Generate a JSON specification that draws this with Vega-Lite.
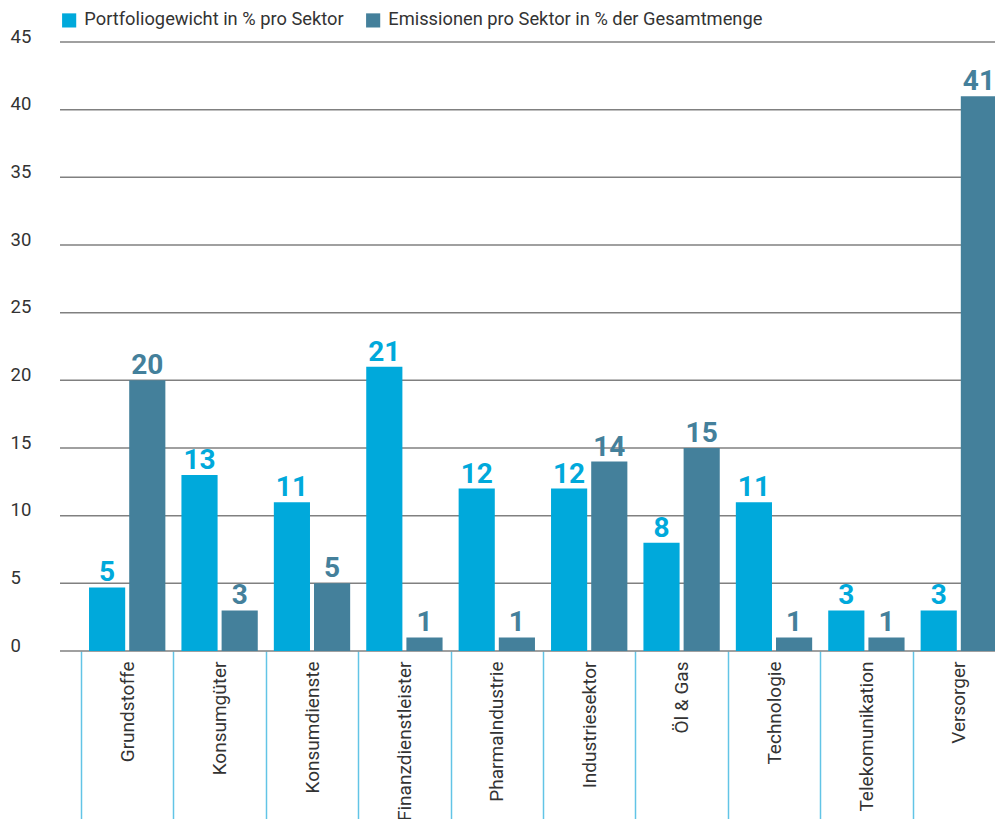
{
  "$schema": "https://vega.github.io/schema/vega-lite/v6.json",
  "autosize": {"type": "none"},
  "width": 935,
  "height": 609,
  "padding": {"left": 60, "top": 42, "right": 0, "bottom": 168},
  "background": "white",
  "config": {
    "view": {"stroke": null},
    "font": "Roboto"
  },
  "datasets": {
    "balken": [
      {"sektor": "Grundstoffe", "serie": "Portfoliogewicht in % pro Sektor", "wert": 4.7},
      {"sektor": "Grundstoffe", "serie": "Emissionen pro Sektor in % der Gesamtmenge", "wert": 20},
      {"sektor": "Konsumgüter", "serie": "Portfoliogewicht in % pro Sektor", "wert": 13},
      {"sektor": "Konsumgüter", "serie": "Emissionen pro Sektor in % der Gesamtmenge", "wert": 3},
      {"sektor": "Konsumdienste", "serie": "Portfoliogewicht in % pro Sektor", "wert": 11},
      {"sektor": "Konsumdienste", "serie": "Emissionen pro Sektor in % der Gesamtmenge", "wert": 5},
      {"sektor": "Finanzdienstleister", "serie": "Portfoliogewicht in % pro Sektor", "wert": 21},
      {"sektor": "Finanzdienstleister", "serie": "Emissionen pro Sektor in % der Gesamtmenge", "wert": 1},
      {"sektor": "PharmaIndustrie", "serie": "Portfoliogewicht in % pro Sektor", "wert": 12},
      {"sektor": "PharmaIndustrie", "serie": "Emissionen pro Sektor in % der Gesamtmenge", "wert": 1},
      {"sektor": "Industriesektor", "serie": "Portfoliogewicht in % pro Sektor", "wert": 12},
      {"sektor": "Industriesektor", "serie": "Emissionen pro Sektor in % der Gesamtmenge", "wert": 14},
      {"sektor": "Öl & Gas", "serie": "Portfoliogewicht in % pro Sektor", "wert": 8},
      {"sektor": "Öl & Gas", "serie": "Emissionen pro Sektor in % der Gesamtmenge", "wert": 15},
      {"sektor": "Technologie", "serie": "Portfoliogewicht in % pro Sektor", "wert": 11},
      {"sektor": "Technologie", "serie": "Emissionen pro Sektor in % der Gesamtmenge", "wert": 1},
      {"sektor": "Telekomunikation", "serie": "Portfoliogewicht in % pro Sektor", "wert": 3},
      {"sektor": "Telekomunikation", "serie": "Emissionen pro Sektor in % der Gesamtmenge", "wert": 1},
      {"sektor": "Versorger", "serie": "Portfoliogewicht in % pro Sektor", "wert": 3},
      {"sektor": "Versorger", "serie": "Emissionen pro Sektor in % der Gesamtmenge", "wert": 41}
    ],
    "gitter": [
      {"wert": 0}, {"wert": 5}, {"wert": 10}, {"wert": 15}, {"wert": 20},
      {"wert": 25}, {"wert": 30}, {"wert": 35}, {"wert": 40}, {"wert": 45}
    ]
  },
  "layer": [
    {
      "data": {"name": "gitter"},
      "mark": {"type": "rule", "color": "#808080", "strokeWidth": 1.5},
      "encoding": {
        "y": {
          "field": "wert",
          "type": "quantitative",
          "title": null,
          "scale": {"domain": [0, 45], "nice": false},
          "axis": {
            "values": [0, 5, 10, 15, 20, 25, 30, 35, 40, 45],
            "domain": false,
            "ticks": false,
            "grid": false,
            "labelAlign": "left",
            "labelBaseline": "alphabetic",
            "labelPadding": 50,
            "labelFontSize": 18.5,
            "labelColor": "#333333",
            "labelFont": "Roboto"
          }
        }
      }
    },
    {
      "data": {"name": "balken"},
      "encoding": {
        "x": {
          "field": "sektor",
          "type": "nominal",
          "sort": null,
          "title": null,
          "scale": {"range": [21, 945], "paddingInner": 0, "paddingOuter": 0},
          "axis": {
            "domain": false,
            "grid": false,
            "ticks": true,
            "tickBand": "extent",
            "tickSize": 172,
            "tickColor": "#62c4e6",
            "tickWidth": 1.5,
            "labelAngle": -90,
            "labelAlign": "right",
            "labelBaseline": "middle",
            "labelPadding": -162,
            "labelFontSize": 19,
            "labelColor": "#333333",
            "labelFont": "Roboto",
            "labelOverlap": false,
            "labelLimit": 300
          }
        },
        "xOffset": {
          "field": "serie",
          "type": "nominal",
          "sort": ["Portfoliogewicht in % pro Sektor", "Emissionen pro Sektor in % der Gesamtmenge"],
          "scale": {"paddingInner": 0.1, "paddingOuter": 0.2}
        },
        "y": {"field": "wert", "type": "quantitative"},
        "color": {
          "field": "serie",
          "type": "nominal",
          "sort": ["Portfoliogewicht in % pro Sektor", "Emissionen pro Sektor in % der Gesamtmenge"],
          "scale": {"range": ["#00a9db", "#44809b"]},
          "legend": {
            "title": null,
            "orient": "none",
            "direction": "horizontal",
            "legendX": 0,
            "legendY": -31,
            "symbolType": "square",
            "symbolSize": 200,
            "symbolStrokeWidth": 0,
            "symbolOpacity": 1,
            "labelFontSize": 18.3,
            "labelColor": "#333333",
            "labelFont": "Roboto",
            "labelOffset": 6,
            "columnPadding": 20,
            "labelLimit": 500
          }
        }
      },
      "layer": [
        {"mark": {"type": "bar", "opacity": 1}},
        {
          "mark": {"type": "text", "baseline": "alphabetic", "dy": -6, "fontSize": 28, "fontWeight": "bold", "font": "Roboto"},
          "encoding": {
            "text": {"field": "wert", "type": "quantitative", "format": ".0f"}
          }
        }
      ]
    }
  ]
}
